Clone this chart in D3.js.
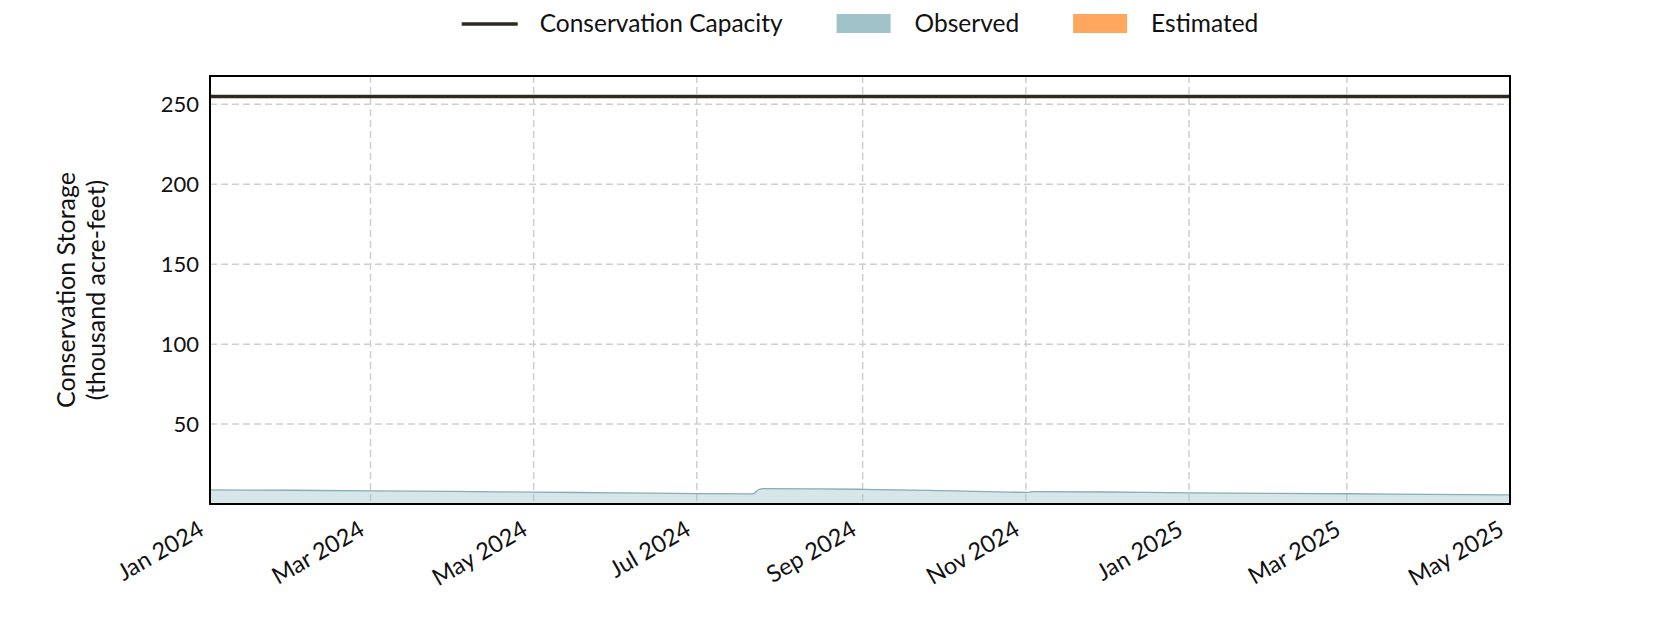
<!DOCTYPE html>
<html>
<head>
<meta charset="utf-8">
<script src="https://cdn.jsdelivr.net/npm/d3@7"></script>
<style>
  html, body { margin: 0; padding: 0; background: #fff; }
  svg text { font-family: Lato, "Open Sans", sans-serif; fill: #111; }
</style>
</head>
<body>
<svg id="chart" width="1680" height="630"></svg>
<script>
'use strict';

// Reservoir storage, thousand acre-feet
const capacity = 255;
const obsDates = [
  '2024-01-01', '2024-02-01', '2024-03-01', '2024-04-01', '2024-05-01',
  '2024-06-01', '2024-07-01', '2024-07-22', '2024-07-24', '2024-07-26',
  '2024-08-15', '2024-09-01', '2024-10-01', '2024-11-02', '2024-11-04',
  '2024-12-01', '2025-01-01', '2025-02-01', '2025-03-01', '2025-04-01',
  '2025-05-01'
];
const obsValues = [
  8.8, 8.6, 8.2, 7.9, 7.4,
  7.0, 6.5, 6.3, 8.9, 9.6,
  9.5, 9.2, 8.4, 7.3, 7.8,
  7.5, 7.0, 6.7, 6.4, 6.0,
  5.7
];
const xTicks = ['2024-01-01', '2024-03-01', '2024-05-01', '2024-07-01', '2024-09-01',
  '2024-11-01', '2025-01-01', '2025-03-01', '2025-05-01'];
const yTicks = [50, 100, 150, 200, 250];
const legendItems = [
  { label: 'Conservation Capacity', kind: 'line', color: '#2f2a1f' },
  { label: 'Observed', kind: 'patch', color: '#9fc3c9' },
  { label: 'Estimated', kind: 'patch', color: '#ffa65f' }
];

const parse = d3.timeParse('%Y-%m-%d');
const fmt = d3.timeFormat('%b %Y');

const margin = { left: 210, right: 170, top: 76, bottom: 126 };
const W = 1680, H = 630;
const plotW = W - margin.left - margin.right;
const plotH = H - margin.top - margin.bottom;

const svg = d3.select('#chart');

const x = d3.scaleTime()
  .domain([parse('2024-01-01'), parse('2025-05-01')])
  .range([margin.left, margin.left + plotW]);
const y = d3.scaleLinear()
  .domain([0, capacity * 1.05])
  .range([margin.top + plotH, margin.top]);

const obs = obsDates.map((d, i) => ({ date: parse(d), value: obsValues[i] }));

// grid
const grid = svg.append('g').attr('class', 'grid');
grid.selectAll('line.gx').data(xTicks.map(parse)).join('line')
  .attr('x1', d => x(d)).attr('x2', d => x(d))
  .attr('y1', margin.top).attr('y2', margin.top + plotH)
  .attr('stroke', '#cfcfcf').attr('stroke-width', 1.5).attr('stroke-dasharray', '7,4');
grid.selectAll('line.gy').data(yTicks).join('line')
  .attr('x1', margin.left).attr('x2', margin.left + plotW)
  .attr('y1', d => y(d)).attr('y2', d => y(d))
  .attr('stroke', '#cfcfcf').attr('stroke-width', 1.5).attr('stroke-dasharray', '7,4');

// observed area
const area = d3.area()
  .x(d => x(d.date)).y0(y(0)).y1(d => y(d.value))
  .curve(d3.curveMonotoneX);
svg.append('path').datum(obs)
  .attr('d', area)
  .attr('fill', '#9fc3c9').attr('fill-opacity', 0.42);
svg.append('path').datum(obs)
  .attr('d', area.lineY1())
  .attr('fill', 'none').attr('stroke', '#85aeb6').attr('stroke-width', 1.3);

// capacity line
svg.append('line')
  .attr('x1', margin.left).attr('x2', margin.left + plotW)
  .attr('y1', y(capacity)).attr('y2', y(capacity))
  .attr('stroke', '#2f2a1f').attr('stroke-width', 3.5);

// frame
svg.append('rect')
  .attr('x', margin.left).attr('y', margin.top)
  .attr('width', plotW).attr('height', plotH)
  .attr('fill', 'none').attr('stroke', '#000').attr('stroke-width', 2);

// y axis labels
const yAxis = d3.axisLeft(y).tickValues(yTicks).tickSize(0).tickPadding(11);
svg.append('g')
  .attr('transform', `translate(${margin.left},0)`)
  .call(yAxis)
  .call(g => g.select('.domain').remove())
  .call(g => g.selectAll('text').attr('font-size', 22).attr('font-family', 'Lato').attr('fill', '#111'));

// x axis labels, rotated
const xAxis = d3.axisBottom(x).tickValues(xTicks.map(parse)).tickFormat(fmt).tickSize(0);
svg.append('g')
  .attr('transform', `translate(0,${margin.top + plotH})`)
  .call(xAxis)
  .call(g => g.select('.domain').remove())
  .call(g => g.selectAll('text')
    .attr('font-size', 23.5).attr('font-family', 'Lato').attr('fill', '#111')
    .attr('text-anchor', 'end')
    .attr('dy', null).attr('y', 0)
    .attr('transform', 'translate(-5,30) rotate(-30)'));

// y title
const yTitle = svg.append('text')
  .attr('transform', `translate(81,${margin.top + plotH / 2}) rotate(-90)`)
  .attr('text-anchor', 'middle').attr('font-size', 25);
yTitle.append('tspan').attr('x', 0).attr('dy', -6.5).text('Conservation Storage');
yTitle.append('tspan').attr('x', 0).attr('dy', 30).text('(thousand acre-feet)');

// legend
const leg = svg.append('g');
let lx = 0;
legendItems.forEach(it => {
  const g = leg.append('g').attr('transform', `translate(${lx},0)`);
  if (it.kind === 'line') {
    g.append('line').attr('x1', 0).attr('x2', 56).attr('y1', 24).attr('y2', 24)
      .attr('stroke', it.color).attr('stroke-width', 3.5);
  } else {
    g.append('rect').attr('x', 0).attr('y', 14).attr('width', 54).attr('height', 19)
      .attr('fill', it.color);
  }
  const t = g.append('text').attr('x', 78).attr('y', 32).attr('font-size', 24.5).text(it.label);
  lx += 78 + t.node().getComputedTextLength() + 54;
});
const legW = lx - 54;
leg.attr('transform', `translate(${margin.left + plotW / 2 - legW / 2},0)`);
</script>
</body>
</html>
